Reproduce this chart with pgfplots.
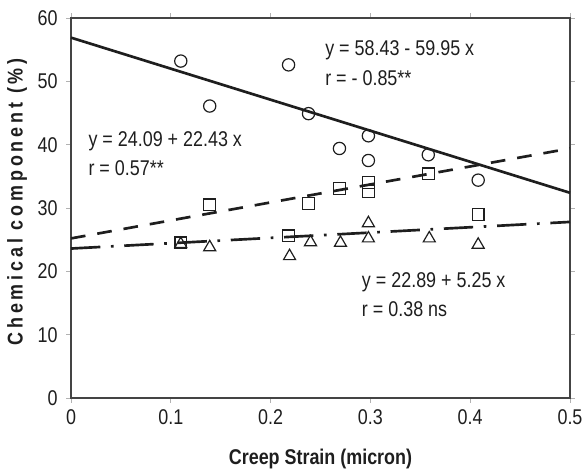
\documentclass[border=0pt]{standalone}
\usepackage{fontspec}
\setmainfont[FakeStretch=0.84]{Liberation Sans}
\usepackage{pgfplots}
\pgfplotsset{compat=1.18}
\definecolor{ink}{HTML}{1E1E1E}
\definecolor{frame}{HTML}{444444}

\begin{document}
\begin{tikzpicture}[x=1pt,y=1pt]
% page = 582 x 468 px, 1 px = 0.75pt; axis box 499 x 380 px
\useasboundingbox (-53.25,-52.5) rectangle (383.25,298.5);
\begin{axis}[
  scale only axis, width=374.25pt, height=285pt,
  at={(0,0)}, anchor=south west,
  xmin=0, xmax=0.5, ymin=0, ymax=60,
  xtick={0,0.1,...,0.5}, ytick={0,10,...,60},
  xticklabels={0,0.1,0.2,0.3,0.4,0.5},
  /pgf/number format/assume math mode=true,
  tick label style={font=\fontsize{16}{19}\selectfont, text=ink},
  tick align=outside, major tick length=3.5pt,
  tick style={gray!60, line width=0.6pt},
  axis line style={frame, line width=1pt},
  xticklabel style={yshift=-2pt},
  yticklabel style={xshift=-3pt},
  xlabel={\bfseries Creep Strain (micron)},
  ylabel={\bfseries\addfontfeature{LetterSpace=18}Chemical component (\%)},
  label style={font=\fontsize{16}{19}\selectfont, text=ink},
  xlabel style={at={(axis description cs:0.5,-0.16)}, anchor=center},
  ylabel style={at={(axis description cs:-0.108,0.516)}, anchor=center},
  clip=false,
]
% fitted lines as drawn
\addplot[ink, line width=2pt] coordinates {(0,56.9) (0.5,32.4)};
\addplot[ink, line width=2pt, dash pattern=on 11pt off 9pt] coordinates {(0,25.2) (0.5,39.4)};
\addplot[ink, line width=2pt, dash pattern=on 22pt off 8pt on 2pt off 8pt] coordinates {(0,23.6) (0.5,27.8)};
% circles
\addplot[only marks, mark=o, mark size=4.6pt, ink, line width=0.9pt] coordinates {
 (0.110,53.2) (0.139,46.1) (0.218,52.6) (0.238,44.9) (0.269,39.4)
 (0.298,41.4) (0.298,37.5) (0.358,38.4) (0.408,34.4)};
% squares
\addplot[only marks, mark=square, mark size=4.4pt, ink, line width=0.9pt] coordinates {
 (0.110,24.5) (0.139,30.5) (0.218,25.6) (0.238,30.7) (0.269,33.1)
 (0.298,34.0) (0.298,32.6) (0.358,35.4) (0.408,29.0)};
% triangles
\addplot[only marks, mark=triangle, mark size=5.2pt, ink, line width=0.9pt] coordinates {
 (0.110,24.3) (0.139,23.8) (0.219,22.4) (0.240,24.6) (0.270,24.5)
 (0.298,27.6) (0.298,25.2) (0.359,25.2) (0.408,24.2)};
\begin{scope}[every node/.style={font=\fontsize{16}{19}\selectfont, text=ink, anchor=base west, inner sep=0pt}]
\node at (axis cs:0.2545,54.05) {y = 58.43 - 59.95 x};
\node at (axis cs:0.2545,49.4) {r = - 0.85**};
\node at (axis cs:0.0173,39.7) {y = 24.09 + 22.43 x};
\node at (axis cs:0.0173,35.1) {r = 0.57**};
\node at (axis cs:0.2913,17.5) {y = 22.89 + 5.25 x};
\node at (axis cs:0.2913,12.8) {r = 0.38 ns};
\end{scope}
\end{axis}
\end{tikzpicture}
\end{document}
